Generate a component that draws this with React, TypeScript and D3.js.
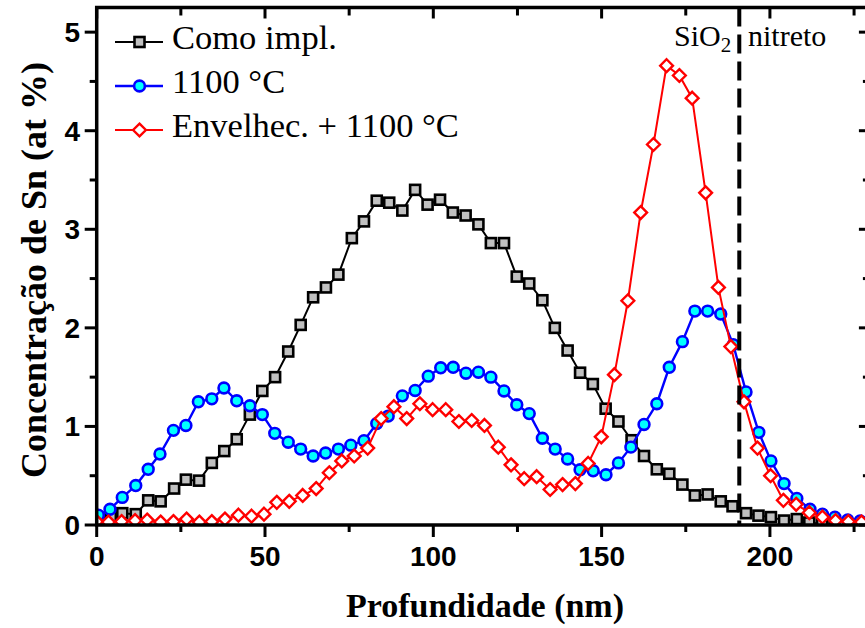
import React from "react";
import * as d3 from "d3";

// Como impl.
const implX = [0.5, 4.2, 7.6, 11.6, 15.3, 19.0, 23.0, 26.5, 30.4, 34.2, 37.9, 41.6, 45.5, 49.2, 53.0, 56.9, 60.6, 64.3, 68.1, 71.8, 75.8, 79.4, 83.2, 86.9, 90.8, 94.6, 98.3, 102.0, 105.8, 109.6, 113.4, 117.1, 121.0, 124.8, 128.5, 132.4, 136.1, 139.9, 143.6, 147.4, 151.2, 155.0, 158.9, 162.6, 166.4, 170.1, 174.0, 177.7, 181.5, 185.4, 188.9, 192.9, 196.6, 200.3, 204.2, 208.0, 211.7, 215.5, 219.2];
const implY = [0.06, 0.08, 0.12, 0.11, 0.25, 0.24, 0.37, 0.46, 0.45, 0.63, 0.75, 0.87, 1.12, 1.36, 1.5, 1.76, 2.03, 2.31, 2.41, 2.54, 2.91, 3.08, 3.29, 3.27, 3.19, 3.4, 3.25, 3.3, 3.17, 3.14, 3.05, 2.86, 2.86, 2.52, 2.45, 2.28, 2.0, 1.77, 1.545, 1.43, 1.18, 1.05, 0.86, 0.7, 0.565, 0.52, 0.41, 0.3, 0.31, 0.24, 0.19, 0.12, 0.095, 0.08, 0.045, 0.06, 0.025, 0.01, 0.0];

// 1100 °C
const annX = [0.5, 3.95, 7.6, 11.6, 15.3, 18.8, 22.8, 26.5, 30.2, 34.2, 37.8, 41.6, 45.5, 49.2, 52.9, 56.9, 60.6, 64.3, 68.0, 71.8, 75.5, 79.4, 83.2, 86.6, 90.8, 94.6, 98.5, 102.2, 105.9, 109.7, 113.4, 117.1, 121.0, 124.8, 128.5, 132.4, 136.2, 139.9, 143.6, 147.5, 151.3, 155.0, 158.7, 162.6, 166.4, 170.1, 174.0, 177.7, 181.5, 185.4, 189.1, 192.9, 196.7, 200.3, 204.2, 208.0, 211.9, 215.6, 219.3, 223.1, 226.8];
const annY = [0.1, 0.16, 0.28, 0.4, 0.565, 0.72, 0.96, 1.01, 1.25, 1.28, 1.39, 1.26, 1.21, 1.12, 0.93, 0.84, 0.77, 0.7, 0.73, 0.77, 0.81, 0.855, 1.03, 1.105, 1.31, 1.365, 1.51, 1.595, 1.6, 1.54, 1.55, 1.5, 1.36, 1.22, 1.13, 0.88, 0.77, 0.67, 0.56, 0.55, 0.51, 0.63, 0.79, 1.02, 1.23, 1.6, 1.86, 2.17, 2.17, 2.14, 1.83, 1.35, 0.94, 0.65, 0.42, 0.27, 0.16, 0.11, 0.08, 0.05, 0.04];

// Envelhec. + 1100 °C
const agedX = [0, 3.5, 7.4, 11.4, 15.0, 19.0, 22.8, 26.7, 30.5, 34.2, 38.1, 42.1, 46.0, 49.7, 53.5, 57.2, 61.2, 65.2, 69.1, 72.8, 76.5, 80.5, 84.5, 88.3, 92.1, 96.0, 99.8, 103.7, 107.6, 111.4, 115.2, 119.3, 123.1, 127.0, 130.7, 134.7, 138.4, 142.2, 146.0, 149.9, 153.8, 157.8, 161.6, 165.4, 169.3, 173.1, 176.9, 180.9, 184.7, 188.4, 192.3, 196.3, 200.2, 204.0, 207.8, 211.7, 215.6, 219.5, 223.3, 227.2];
const agedY = [0.035, 0.03, 0.035, 0.045, 0.05, 0.03, 0.035, 0.06, 0.03, 0.035, 0.06, 0.1, 0.09, 0.11, 0.23, 0.24, 0.3, 0.37, 0.53, 0.65, 0.7, 0.78, 1.08, 1.2, 1.08, 1.23, 1.17, 1.17, 1.05, 1.06, 1.01, 0.79, 0.61, 0.47, 0.49, 0.36, 0.41, 0.42, 0.625, 0.895, 1.525, 2.275, 3.17, 3.86, 4.66, 4.56, 4.33, 3.37, 2.41, 1.81, 1.25, 0.78, 0.5, 0.25, 0.21, 0.125, 0.08, 0.045, 0.035, 0.03];

const legendLabels = ["Como impl.", "1100 °C", "Envelhec. + 1100 °C"];
const xMajorTicks = [0, 50, 100, 150, 200];
const xAllTicks = [0, 25, 50, 75, 100, 125, 150, 175, 200, 225];
const yMajorTicks = [0, 1, 2, 3, 4, 5];
const yAllTicks = [0, 0.5, 1, 1.5, 2, 2.5, 3, 3.5, 4, 4.5, 5];
const interfaceX = 190.9;

const W = 865;
const H = 628;
const L = 96.7;
const R = 870.9;
const T = 7.5;
const B = 525;

export default function App() {
  const x = d3.scaleLinear().domain([0, 230]).range([L, R]);
  const y = d3.scaleLinear().domain([0, 5.25]).range([B, T]);
  const line = d3
    .line<[number, number]>()
    .x((d) => x(d[0]))
    .y((d) => y(d[1]));

  const implPts = implX.map((v, i) => [v, implY[i]] as [number, number]);
  const annPts = annX.map((v, i) => [v, annY[i]] as [number, number]);
  const agedPts = agedX.map((v, i) => [v, agedY[i]] as [number, number]);

  const sq = (cx: number, cy: number, k: string | number) => (
    <rect key={k} x={cx - 5} y={cy - 5} width={10} height={10} fill="#c0c0c0" stroke="#000" strokeWidth={2.6} />
  );
  const circ = (cx: number, cy: number, k: string | number) => (
    <circle key={k} cx={cx} cy={cy} r={5.4} fill="#00ffff" stroke="#0000ff" strokeWidth={2.6} />
  );
  const dia = (cx: number, cy: number, k: string | number) => (
    <path key={k} d={`M${cx},${cy - 6.4}L${cx + 6.4},${cy}L${cx},${cy + 6.4}L${cx - 6.4},${cy}Z`} fill="#fff" stroke="#ff0000" strokeWidth={2.4} />
  );

  const legendRows = [
    { color: "#000", mk: sq, lw: 2 },
    { color: "#0000ff", mk: circ, lw: 2.4 },
    { color: "#ff0000", mk: dia, lw: 2 },
  ];

  return (
    <svg width={W} height={H} style={{ position: "absolute", left: 0, top: 0, background: "#fff" }}>
      <defs>
        <clipPath id="plot">
          <rect x={L} y={T} width={R - L} height={B - T} />
        </clipPath>
      </defs>

      <g clipPath="url(#plot)">
        <path d={line(implPts) || ""} fill="none" stroke="#000" strokeWidth={2} />
        {implPts.map((p, i) => sq(x(p[0]), y(p[1]), "s" + i))}
        <path d={line(annPts) || ""} fill="none" stroke="#0000ff" strokeWidth={2.4} />
        {annPts.map((p, i) => circ(x(p[0]), y(p[1]), "c" + i))}
        <path d={line(agedPts) || ""} fill="none" stroke="#ff0000" strokeWidth={2} />
        {agedPts.map((p, i) => dia(x(p[0]), y(p[1]), "d" + i))}
      </g>

      {/* interface dashed line */}
      <line x1={x(interfaceX)} x2={x(interfaceX)} y1={T} y2={B} stroke="#000" strokeWidth={4} strokeDasharray="19,8" />

      {/* frame */}
      <rect x={L} y={T} width={R - L} height={B - T} fill="none" stroke="#000" strokeWidth={3.5} />

      {/* bottom ticks */}
      {xAllTicks.map((t) => (
        <line key={"bx" + t} x1={x(t)} x2={x(t)} y1={B} y2={B + (xMajorTicks.includes(t) ? 12 : 7)} stroke="#000" strokeWidth={3} />
      ))}
      {/* top ticks */}
      {xAllTicks.map((t) => (
        <line key={"tx" + t} x1={x(t)} x2={x(t)} y1={T} y2={T + (xMajorTicks.includes(t) ? 11 : 8)} stroke="#000" strokeWidth={3} />
      ))}
      {/* left ticks */}
      {yAllTicks.map((t) => (
        <line key={"ly" + t} x1={L - (yMajorTicks.includes(t) ? 12 : 7)} x2={L} y1={y(t)} y2={y(t)} stroke="#000" strokeWidth={3} />
      ))}
      {/* right ticks */}
      {yAllTicks.map((t) => (
        <line key={"ry" + t} x1={R - (yMajorTicks.includes(t) ? 12 : 8)} x2={R} y1={y(t)} y2={y(t)} stroke="#000" strokeWidth={3} />
      ))}

      {xMajorTicks.map((t) => (
        <text key={"xl" + t} x={x(t)} y={566} textAnchor="middle" fontFamily="'Liberation Sans', Arial, sans-serif" fontWeight="bold" fontSize={28}>
          {t}
        </text>
      ))}
      {yMajorTicks.map((t) => (
        <text key={"yl" + t} x={80} y={y(t) + 10} textAnchor="end" fontFamily="'Liberation Sans', Arial, sans-serif" fontWeight="bold" fontSize={28}>
          {t}
        </text>
      ))}

      <text x={485} y={617} textAnchor="middle" fontFamily="'Liberation Serif', 'Times New Roman', serif" fontWeight="bold" fontSize={34}>
        Profundidade (nm)
      </text>
      <text
        transform={`translate(46,270) rotate(-90)`}
        textAnchor="middle"
        fontFamily="'Liberation Serif', 'Times New Roman', serif"
        fontWeight="bold"
        fontSize={36}
      >
        Concentração de Sn (at %)
      </text>

      {/* legend */}
      {legendLabels.map((lab, i) => {
        const cy = 42 + i * 44;
        const row = legendRows[i];
        return (
          <g key={"lg" + i}>
            <line x1={115} x2={163} y1={cy} y2={cy} stroke={row.color} strokeWidth={row.lw} />
            {row.mk(139.5, cy, "lm" + i)}
            <text x={172} y={cy + 6.5} fontFamily="'Liberation Serif', 'Times New Roman', serif" fontSize={34.5}>
              {lab}
            </text>
          </g>
        );
      })}

      {/* region labels */}
      <text x={674} y={46} fontFamily="'Liberation Serif', 'Times New Roman', serif" fontSize={30}>
        SiO
        <tspan fontSize={21} dy={6}>2</tspan>
      </text>
      <text x={748} y={46} fontFamily="'Liberation Serif', 'Times New Roman', serif" fontSize={30}>
        nitreto
      </text>
    </svg>
  );
}
